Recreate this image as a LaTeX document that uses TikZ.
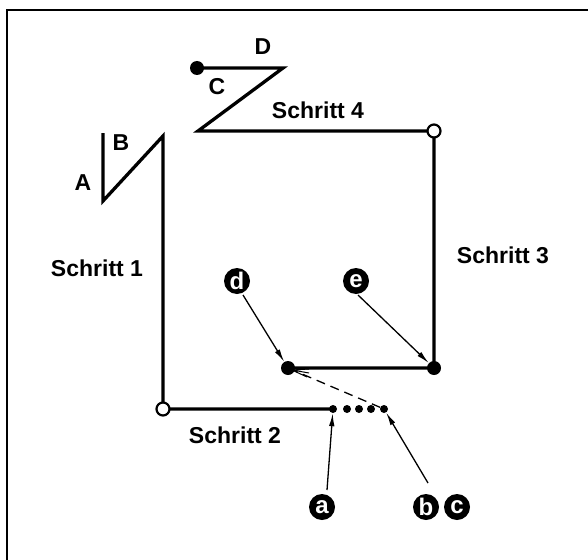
\documentclass[tikz,border=0pt]{standalone}
\usepackage{fontspec}
\setmainfont{Liberation Sans}
\usetikzlibrary{arrows.meta}
\begin{document}
\begin{tikzpicture}[x=1pt,y=-1pt,
  seam/.style={line width=3.3pt, line join=miter},
  thinarrow/.style={line width=1.3pt,-{Latex[length=13pt,width=5.5pt]}},
  lbl/.style={font=\bfseries\fontsize{23}{23}\selectfont, inner sep=0pt},
  circlbl/.style={circle, fill=black, text=white, inner sep=0pt, minimum size=26pt, font=\bfseries\fontsize{24}{24}\selectfont},
  bigdot/.style={circle, fill=black, inner sep=0pt, minimum size=14pt},
  smalldot/.style={circle, fill=black, inner sep=0pt, minimum size=8pt},
  opendot/.style={circle, draw=black, fill=white, line width=2.2pt, inner sep=0pt, minimum size=13pt}]
\useasboundingbox (0,0) rectangle (588,559);
% frame (top and left edges visible)
\draw[line width=2.2pt] (7,590) -- (7,10) -- (600,10);
% coordinates of the seam
\coordinate (p1) at (103,133);
\coordinate (p2) at (103,201);
\coordinate (p3) at (163,136);
\coordinate (p4) at (163,409);
\coordinate (p5) at (333,409);
\coordinate (q1) at (288,368);
\coordinate (q2) at (434,368);
\coordinate (q3) at (434,131);
\coordinate (q4) at (198,131);
\coordinate (q5) at (283,68);
\coordinate (q6) at (197,68);
% step 1
\draw[seam] (p1) -- (p2) -- (p3) -- (p4) -- (p5);
% steps 3 and 4
\draw[seam] (q1) -- (q2) -- (q3) -- (q4) -- (q5) -- (q6);
% dots
\node[opendot] (o1) at (p4) {};
\node[opendot] (o2) at (q3) {};
\node[bigdot] (dend) at (q6) {};
\node[bigdot] (dd) at (q1) {};
\node[bigdot] (de) at (q2) {};
\node[smalldot] (s1) at (p5) {};
\node[smalldot] (s2) at (347,409) {};
\node[smalldot] (s3) at (359,409) {};
\node[smalldot] (s4) at (371,409) {};
\node[smalldot] (s5) at (384,409) {};
% dashed return
\draw[line width=1.3pt, dash pattern=on 9pt off 6pt] (s5) -- (dd);
\coordinate (f0) at (292,370);
\draw[line width=1pt] (f0) -- (309,369) (f0) -- (309,373) (f0) -- (307,377);
% labels
\node[lbl] (lA) at (83,183) {A};
\node[lbl] (lB) at (121,143) {B};
\node[lbl] (lC) at (217,87) {C};
\node[lbl] (lD) at (263,47) {D};
\node[lbl] (l1) at (97,268) {Schritt 1};
\node[lbl] (l2) at (235,435) {Schritt 2};
\node[lbl] (l3) at (503,255) {Schritt 3};
\node[lbl] (l4) at (318,110) {Schritt 4};
% circled letters
\node[circlbl] (ca) at (322,507) {a};
\node[circlbl] (cb) at (426,507) {b};
\node[circlbl] (cc) at (457,507) {c};
\node[circlbl] (cd) at (237,281) {d};
\node[circlbl] (ce) at (356,281) {e};
% pointer arrows
\draw[thinarrow] (327,490) -- (s1);
\draw[thinarrow] (428,483) -- (s5);
\draw[thinarrow] (243,295) -- (dd);
\draw[thinarrow] (358,295) -- (de);
\end{tikzpicture}
\end{document}
